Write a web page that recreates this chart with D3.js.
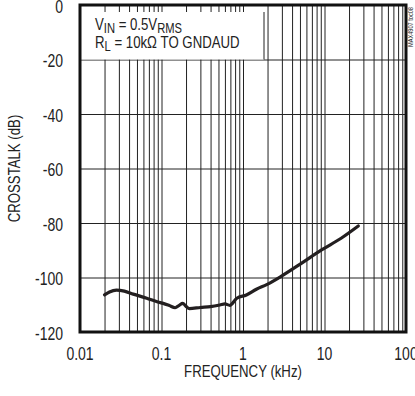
<!DOCTYPE html>
<html>
<head>
<meta charset="utf-8">
<script src="https://cdn.jsdelivr.net/npm/d3@7"></script>
<style>
  html, body { margin: 0; padding: 0; background: #fff; }
  svg { display: block; }
  text { font-family: "Liberation Sans", Arial, sans-serif; fill: #222; }
</style>
</head>
<body>
<svg id="chart" width="415" height="396"></svg>
<script>
// ---- data ----
const freqKHz = [0.02, 0.023, 0.028, 0.035, 0.045, 0.066, 0.09, 0.105, 0.125, 0.147, 0.165, 0.182, 0.2, 0.22, 0.3, 0.4, 0.52, 0.6, 0.69, 0.84, 1.1, 1.46, 1.95, 3.0, 5.2, 9.2, 16, 26];
const crosstalkDB = [-106.4, -105.3, -104.6, -105.0, -106.1, -107.6, -109.0, -109.5, -110.3, -111.1, -110.2, -109.5, -110.6, -111.4, -111.0, -110.7, -110.1, -109.7, -110.2, -107.6, -106.4, -104.3, -102.6, -99.4, -94.8, -89.9, -85.6, -81.1];
const xTickValues = [0.01, 0.1, 1, 10, 100];
const xTickLabels = ["0.01", "0.1", "1", "10", "100"];
const yTickValues = [0, -20, -40, -60, -80, -100, -120];
const yTickLabels = ["0", "-20", "-40", "-60", "-80", "-100", "-120"];
const xTitle = "FREQUENCY (kHz)";
const yTitle = "CROSSTALK (dB)";
const chartId = "MAX4907 toc08";

// ---- layout ----
const SX = 0.8; // condensed look
const svg = d3.select("#chart");
const m = { left: 80, top: 5, right: 406, bottom: 332 };
const x = d3.scaleLog().domain([0.01, 100]).range([m.left, m.right]);
const y = d3.scaleLinear().domain([-120, 0]).range([m.bottom, m.top]);

// minor grid values 1..9 per decade
const gridX = [];
[0.01, 0.1, 1, 10].forEach(d => { for (let k = 1; k <= 9; k++) gridX.push(d * k); });
gridX.push(100);

// vertical grid
svg.append("g")
  .attr("transform", `translate(0,${m.bottom})`)
  .call(d3.axisBottom(x).tickValues(gridX).tickSize(-(m.bottom - m.top)).tickFormat(""))
  .call(g => g.select(".domain").remove())
  .call(g => g.selectAll("line").attr("stroke", "#222").attr("stroke-width", 1));

// horizontal grid
svg.append("g")
  .attr("transform", `translate(${m.left},0)`)
  .call(d3.axisLeft(y).tickValues(yTickValues).tickSize(-(m.right - m.left)).tickFormat(""))
  .call(g => g.select(".domain").remove())
  .call(g => g.selectAll("line").attr("stroke", "#222").attr("stroke-width", 1));

// legend box (white, covering grid)
svg.append("rect")
  .attr("x", m.left).attr("y", 12)
  .attr("width", 264 - m.left).attr("height", y(-20) - 12)
  .attr("fill", "#fff");
svg.append("line")
  .attr("x1", 264).attr("x2", 264).attr("y1", 12).attr("y2", y(-20))
  .attr("stroke", "#222").attr("stroke-width", 1);

const t1 = svg.append("text").attr("transform", `translate(95,30) scale(${SX},1)`).attr("font-size", 16.5);
t1.append("tspan").text("V");
t1.append("tspan").text("IN").attr("font-size", 14).attr("dy", 3);
t1.append("tspan").text(" = 0.5V").attr("dy", -3);
t1.append("tspan").text("RMS").attr("font-size", 14).attr("dy", 3);

const t2 = svg.append("text").attr("transform", `translate(95,48) scale(${SX},1)`).attr("font-size", 16.5);
t2.append("tspan").text("R");
t2.append("tspan").text("L").attr("font-size", 14).attr("dy", 3);
t2.append("tspan").text(" = 10k\u03A9 TO GNDAUD").attr("dy", -3);

// curve
const pts = freqKHz.map((f, i) => [f, crosstalkDB[i]]);
svg.append("path")
  .datum(pts)
  .attr("fill", "none")
  .attr("stroke", "#231f20")
  .attr("stroke-width", 3.2)
  .attr("stroke-linejoin", "round")
  .attr("stroke-linecap", "round")
  .attr("d", d3.line().x(d => x(d[0])).y(d => y(d[1])).curve(d3.curveMonotoneX));

// frame
svg.append("rect")
  .attr("x", m.left).attr("y", m.top)
  .attr("width", m.right - m.left).attr("height", m.bottom - m.top)
  .attr("fill", "none").attr("stroke", "#111").attr("stroke-width", 3);

// x tick labels
svg.append("g").selectAll("text")
  .data(xTickValues)
  .join("text")
  .attr("transform", d => `translate(${x(d)},360) scale(${SX},1)`)
  .attr("text-anchor", "middle").attr("font-size", 17.5)
  .text((d, i) => xTickLabels[i]);

// y tick labels
svg.append("g").selectAll("text")
  .data(yTickValues)
  .join("text")
  .attr("transform", d => `translate(63,${y(d) + 7.8}) scale(${SX},1)`)
  .attr("text-anchor", "end").attr("font-size", 17.5)
  .text((d, i) => yTickLabels[i]);

// axis titles
svg.append("text")
  .attr("transform", `translate(${(m.left + m.right) / 2},377) scale(${SX},1)`)
  .attr("text-anchor", "middle").attr("font-size", 16.5).text(xTitle);
svg.append("text")
  .attr("transform", `translate(20,${(m.top + m.bottom) / 2}) rotate(-90) scale(${SX},1)`)
  .attr("text-anchor", "middle").attr("font-size", 16.5).text(yTitle);

// chart id
svg.append("text")
  .attr("transform", `translate(413,27) rotate(-90) scale(${SX},1)`)
  .attr("text-anchor", "middle").attr("font-size", 7).text(chartId);
</script>
</body>
</html>
